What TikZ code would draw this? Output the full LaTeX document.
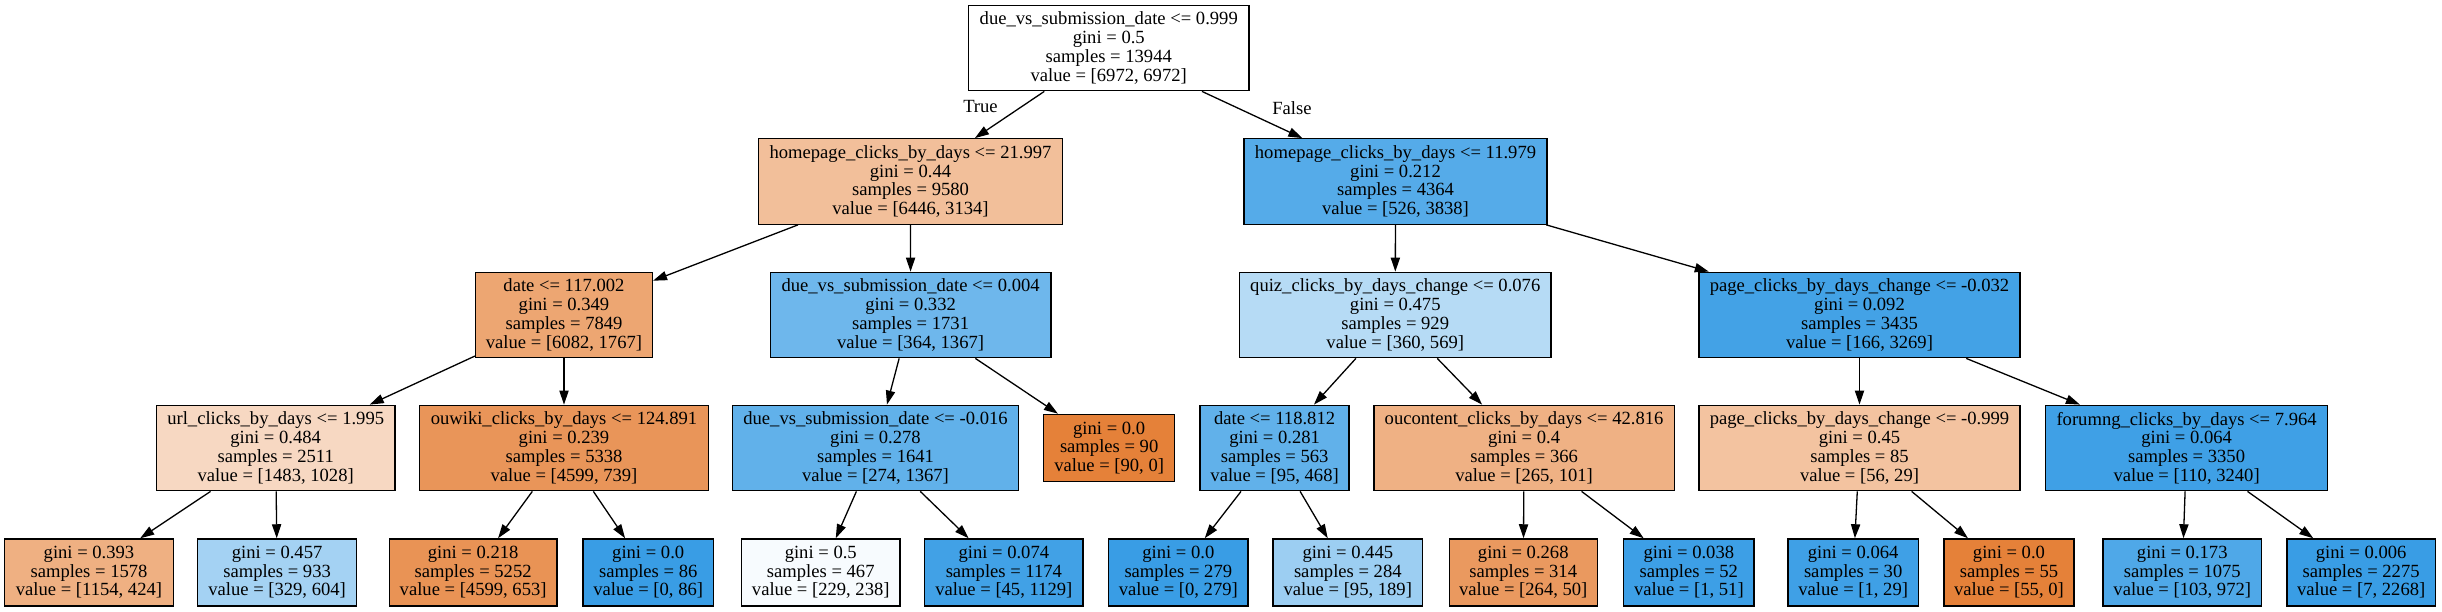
\documentclass[tikz,border=0pt]{standalone}
\usepackage{fontspec}
\setmainfont{Liberation Serif}
\usetikzlibrary{arrows.meta}
\definecolor{cO}{RGB}{229,129,57}
\definecolor{cB}{RGB}{57,157,229}
\tikzset{
  tn/.style={draw=black, line width=0.65pt, rectangle, align=center, inner sep=0pt,
    font=\fontsize{9.3}{9.35}\selectfont},
  bw/.style={minimum width=#1*0.5pt},
  hfour/.style={minimum height=85.5*0.5pt},
  hthree/.style={minimum height=67*0.5pt},
  arr/.style={draw=black, line width=0.65pt, -{Triangle[length=7pt,width=4.6pt]}},
  elab/.style={font=\fontsize{9.3}{9.35}\selectfont, inner sep=0pt}
}
\begin{document}
\begin{tikzpicture}[x=0.5pt,y=-0.5pt]
\useasboundingbox (0,0) rectangle (2442,611);
% level 0
\node[tn,hfour,bw=280.5,fill=white] (root) at (1108.75,48) {due\_vs\_submission\_date <= 0.999\\gini = 0.5\\samples = 13944\\value = [6972, 6972]};
% level 1
\node[tn,hfour,bw=304,fill=cO!51] (hL) at (910.5,181.5) {homepage\_clicks\_by\_days <= 21.997\\gini = 0.44\\samples = 9580\\value = [6446, 3134]};
\node[tn,hfour,bw=303,fill=cB!86] (hR) at (1395.5,181.5) {homepage\_clicks\_by\_days <= 11.979\\gini = 0.212\\samples = 4364\\value = [526, 3838]};
% level 2
\node[tn,hfour,bw=176.8,fill=cO!71] (d1) at (564,315) {date <= 117.002\\gini = 0.349\\samples = 7849\\value = [6082, 1767]};
\node[tn,hfour,bw=280.6,fill=cB!73] (u1) at (910.6,315) {due\_vs\_submission\_date <= 0.004\\gini = 0.332\\samples = 1731\\value = [364, 1367]};
\node[tn,hfour,bw=311.5,fill=cB!37] (qz) at (1395.25,315) {quiz\_clicks\_by\_days\_change <= 0.076\\gini = 0.475\\samples = 929\\value = [360, 569]};
\node[tn,hfour,bw=321,fill=cB!95] (p1) at (1859.5,315) {page\_clicks\_by\_days\_change <= -0.032\\gini = 0.092\\samples = 3435\\value = [166, 3269]};
% level 3
\node[tn,hfour,bw=238.6,fill=cO!31] (ur) at (275.7,448) {url\_clicks\_by\_days <= 1.995\\gini = 0.484\\samples = 2511\\value = [1483, 1028]};
\node[tn,hfour,bw=289,fill=cO!84] (ow) at (564,448) {ouwiki\_clicks\_by\_days <= 124.891\\gini = 0.239\\samples = 5338\\value = [4599, 739]};
\node[tn,hfour,bw=286.2,fill=cB!80] (u2) at (875.5,448) {due\_vs\_submission\_date <= -0.016\\gini = 0.278\\samples = 1641\\value = [274, 1367]};
\node[tn,minimum height=67.4*0.5pt,bw=130.7,fill=cO] (lf) at (1109.15,448) {gini = 0.0\\samples = 90\\value = [90, 0]};
\node[tn,hfour,bw=149,fill=cB!80] (d2) at (1274.6,448) {date <= 118.812\\gini = 0.281\\samples = 563\\value = [95, 468]};
\node[tn,hfour,bw=300.4,fill=cO!62] (oc) at (1524.1,448) {oucontent\_clicks\_by\_days <= 42.816\\gini = 0.4\\samples = 366\\value = [265, 101]};
\node[tn,hfour,bw=321,fill=cO!48] (p2) at (1859.5,448) {page\_clicks\_by\_days\_change <= -0.999\\gini = 0.45\\samples = 85\\value = [56, 29]};
\node[tn,hfour,bw=281.6,fill=cB!97] (fo) at (2186.6,448) {forumng\_clicks\_by\_days <= 7.964\\gini = 0.064\\samples = 3350\\value = [110, 3240]};
% level 4
\node[tn,hthree,bw=168.6,fill=cO!63] (l1) at (89,572.4) {gini = 0.393\\samples = 1578\\value = [1154, 424]};
\node[tn,hthree,bw=158.6,fill=cB!46] (l2) at (277.1,572.4) {gini = 0.457\\samples = 933\\value = [329, 604]};
\node[tn,hthree,bw=167.7,fill=cO!86] (l3) at (473.15,572.4) {gini = 0.218\\samples = 5252\\value = [4599, 653]};
\node[tn,hthree,bw=130.4,fill=cB] (l4) at (648.2,572.4) {gini = 0.0\\samples = 86\\value = [0, 86]};
\node[tn,hthree,bw=158.5,fill=cB!4] (l5) at (820.75,572.4) {gini = 0.5\\samples = 467\\value = [229, 238]};
\node[tn,hthree,bw=158.5,fill=cB!96] (l6) at (1003.85,572.4) {gini = 0.074\\samples = 1174\\value = [45, 1129]};
\node[tn,hthree,bw=139.4,fill=cB] (l7) at (1178.3,572.4) {gini = 0.0\\samples = 279\\value = [0, 279]};
\node[tn,hthree,bw=149.8,fill=cB!50] (l8) at (1347.8,572.4) {gini = 0.445\\samples = 284\\value = [95, 189]};
\node[tn,hthree,bw=148.1,fill=cO!81] (l9) at (1523.25,572.4) {gini = 0.268\\samples = 314\\value = [264, 50]};
\node[tn,hthree,bw=130.1,fill=cB!98] (l10) at (1688.85,572.4) {gini = 0.038\\samples = 52\\value = [1, 51]};
\node[tn,hthree,bw=130.1,fill=cB!97] (l11) at (1853.15,572.4) {gini = 0.064\\samples = 30\\value = [1, 29]};
\node[tn,hthree,bw=130.1,fill=cO] (l12) at (2008.95,572.4) {gini = 0.0\\samples = 55\\value = [55, 0]};
\node[tn,hthree,bw=158.3,fill=cB!89] (l13) at (2182.25,572.4) {gini = 0.173\\samples = 1075\\value = [103, 972]};
\node[tn,hthree,bw=148.1,fill=cB!100] (l14) at (2361.15,572.4) {gini = 0.006\\samples = 2275\\value = [7, 2268]};
% edges
\draw[arr] (root) -- (hL);
\draw[arr] (root) -- (hR);
\node[elab] (tlab) at (980.5,106.7) {True};
\node[elab] (flab) at (1292,108) {False};
\draw[arr] (hL) -- (d1);
\draw[arr] (hL) -- (u1);
\draw[arr] (hR) -- (qz);
\draw[arr] (hR) -- (p1);
\draw[arr] (d1) -- (ur);
\draw[arr] (d1) -- (ow);
\draw[arr] (u1) -- (u2);
\draw[arr] (u1) -- (lf);
\draw[arr] (qz) -- (d2);
\draw[arr] (qz) -- (oc);
\draw[arr] (p1) -- (p2);
\draw[arr] (p1) -- (fo);
\draw[arr] (ur) -- (l1);
\draw[arr] (ur) -- (l2);
\draw[arr] (ow) -- (l3);
\draw[arr] (ow) -- (l4);
\draw[arr] (u2) -- (l5);
\draw[arr] (u2) -- (l6);
\draw[arr] (d2) -- (l7);
\draw[arr] (d2) -- (l8);
\draw[arr] (oc) -- (l9);
\draw[arr] (oc) -- (l10);
\draw[arr] (p2) -- (l11);
\draw[arr] (p2) -- (l12);
\draw[arr] (fo) -- (l13);
\draw[arr] (fo) -- (l14);
\end{tikzpicture}
\end{document}
